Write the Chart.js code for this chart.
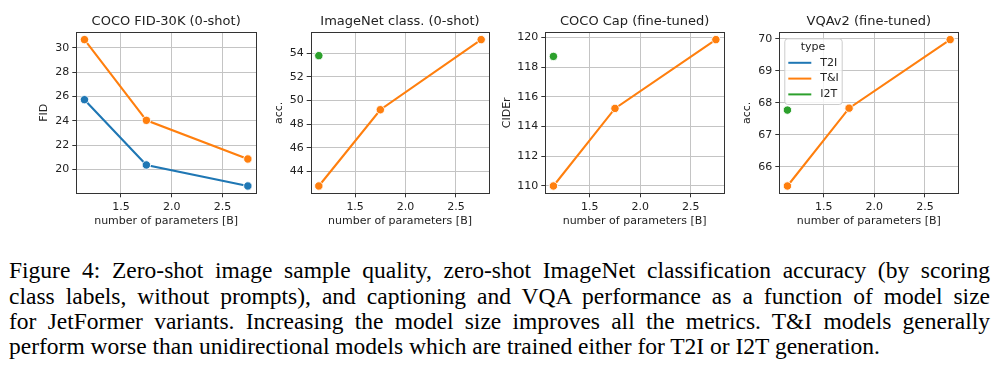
<!DOCTYPE html>
<html>
<head>
<meta charset="utf-8">
<script src="https://cdn.jsdelivr.net/npm/chart.js@4.4.1/dist/chart.umd.min.js"></script>
<style>
  body { margin: 0; background: #fff; width: 1000px; height: 376px; overflow: hidden; position: relative; }
  canvas { position: absolute; top: 0; }
  #caption {
    position: absolute; left: 9px; top: 258.4px; width: 981px;
    font-family: "Liberation Serif", "Times New Roman", serif; font-size: 23.5px; line-height: 25.3px; color: #000;
  }
  #caption div { white-space: nowrap; text-align: justify; text-align-last: justify; }
  #caption div.last { text-align-last: left; }
</style>
</head>
<body>
<canvas id="c0" width="262" height="240" style="left:0px"></canvas>
<canvas id="c1" width="234" height="240" style="left:262px"></canvas>
<canvas id="c2" width="234" height="240" style="left:496px"></canvas>
<canvas id="c3" width="270" height="240" style="left:730px"></canvas>
<div id="caption">
  <div>Figure 4: Zero-shot image sample quality, zero-shot ImageNet classification accuracy (by scoring</div>
  <div>class labels, without prompts), and captioning and VQA performance as a function of model size</div>
  <div>for JetFormer variants. Increasing the model size improves all the metrics. T&amp;I models generally</div>
  <div class="last">perform worse than unidirectional models which are trained either for T2I or I2T generation.</div>
</div>
<script>
// model sizes in billions of parameters
const params = [1.14, 1.75, 2.75];
const paramsI2T = [1.14];
const typeNames = ["T2I", "T&I", "I2T"];

const fidT2I = [25.73, 20.36, 18.63];
const fidTI = [30.67, 24.03, 20.85];
const inetTI = [42.76, 49.22, 55.16];
const inetI2T = [53.8];
const capTI = [110.0, 115.22, 119.85];
const capI2T = [118.72];
const vqaTI = [65.40, 67.83, 69.97];
const vqaI2T = [67.77];

const titles = ["COCO FID-30K (0-shot)", "ImageNet class. (0-shot)", "COCO Cap (fine-tuned)", "VQAv2 (fine-tuned)"];
const yLabels = ["FID", "acc.", "CIDEr", "acc."];
const yStep = [2, 2, 2, 1];
const xTicks = [1.5, 2.0, 2.5];

const panelSeries = [
  [fidT2I, fidTI, []],
  [[], inetTI, inetI2T],
  [[], capTI, capI2T],
  [[], vqaTI, vqaI2T]
];

// layout: y-axis width, right padding, y-title offset
const layout = [
  { yW: 76.3, rp: 6, yt: 37.4 },
  { yW: 48.7, rp: 6.7, yt: 10.7 },
  { yW: 49.3, rp: 6, yt: 4.1 },
  { yW: 49.3, rp: 41.7, yt: 10.7 }
];

const colors = ["#1f77b4", "#ff7f0e", "#2ca02c"];

Chart.defaults.font.family = "DejaVu Sans";
Chart.defaults.color = "#222";

const frame = {
  id: "frame",
  afterDraw(chart) {
    const a = chart.chartArea, ctx = chart.ctx;
    ctx.save();
    ctx.strokeStyle = "#333";
    ctx.lineWidth = 1;
    ctx.strokeRect(Math.round(a.left) + 0.5, Math.round(a.top) + 0.5,
      Math.round(a.right) - Math.round(a.left), Math.round(a.bottom) - Math.round(a.top));
    ctx.restore();
  }
};

const typeLegend = {
  id: "typeLegend",
  afterDraw(chart, args, opts) {
    if (!opts.show) return;
    const a = chart.chartArea, ctx = chart.ctx;
    const x = a.left + 5, y = a.top + 6, w = 57.4, h = 65.7;
    ctx.save();
    ctx.fillStyle = "rgba(255,255,255,0.8)";
    ctx.strokeStyle = "#ccc";
    ctx.lineWidth = 1;
    ctx.beginPath();
    ctx.roundRect(x + 0.5, y + 0.5, w, h, 3);
    ctx.fill();
    ctx.stroke();
    ctx.font = "11px 'DejaVu Sans'";
    ctx.fillStyle = "#222";
    ctx.textBaseline = "middle";
    ctx.textAlign = "center";
    ctx.fillText("type", x + w / 2, y + 9);
    ctx.textAlign = "left";
    chart.data.datasets.forEach((ds, i) => {
      const ly = y + 24.5 + i * 15.8;
      ctx.strokeStyle = ds.borderColor;
      ctx.lineWidth = 2;
      ctx.beginPath();
      ctx.moveTo(x + 4, ly);
      ctx.lineTo(x + 27, ly);
      ctx.stroke();
      ctx.fillText(ds.label, x + 36, ly);
    });
    ctx.restore();
  }
};

function limits(vals) {
  const mn = Math.min(...vals), mx = Math.max(...vals);
  const m = (mx - mn) * 0.05;
  return [mn - m, mx + m];
}

panelSeries.forEach((series, p) => {
  const L = layout[p];
  const datasets = series.map((vals, k) => ({
    label: typeNames[k],
    data: vals.map((v, i) => ({ x: (k === 2 ? paramsI2T : params)[i], y: v })),
    borderColor: colors[k],
    backgroundColor: colors[k],
    borderWidth: 2.1,
    pointRadius: 4.2,
    pointBorderColor: "#fff",
    pointBorderWidth: 0.9,
    pointBackgroundColor: colors[k],
    tension: 0
  }));
  const allY = series.flat();
  const [ymin, ymax] = limits(allY);
  const [xmin, xmax] = limits(params);

  new Chart(document.getElementById("c" + p), {
    type: "line",
    data: { datasets },
    plugins: [frame, typeLegend],
    options: {
      responsive: false,
      animation: false,
      devicePixelRatio: 1,
      layout: { padding: { left: 0, right: L.rp, top: 0, bottom: 0 } },
      plugins: {
        legend: { display: false },
        tooltip: { enabled: false },
        title: {
          display: true, text: titles[p], fullSize: false,
          font: { size: 13, weight: "normal" }, color: "#222",
          padding: { top: 14.2, bottom: 2.5 }
        },
        typeLegend: { show: p === 3 }
      },
      scales: {
        x: {
          type: "linear", min: xmin, max: xmax,
          afterFit(s) { s.height = 46.7; },
          afterBuildTicks(s) { s.ticks = xTicks.map(v => ({ value: v })); },
          ticks: { font: { size: 11 }, color: "#222", padding: 3, maxRotation: 0,
            callback: v => v.toFixed(1) },
          grid: { color: "#c4c4c4", lineWidth: 1, tickLength: 4, tickColor: "#333" },
          border: { display: false },
          title: { display: true, text: "number of parameters [B]", font: { size: 11 }, color: "#222",
            padding: { top: 0, bottom: 12.7 } }
        },
        y: {
          type: "linear", min: ymin, max: ymax,
          afterFit(s) { s.width = L.yW; },
          ticks: { font: { size: 11 }, color: "#222", padding: 3, stepSize: yStep[p], includeBounds: false,
            callback: v => String(Math.round(v)) },
          grid: { color: "#c4c4c4", lineWidth: 1, tickLength: 4, tickColor: "#333" },
          border: { display: false },
          title: { display: true, text: yLabels[p], font: { size: 11 }, color: "#222",
            padding: { top: L.yt, bottom: 0 } }
        }
      }
    }
  });
});
</script>
</body>
</html>
